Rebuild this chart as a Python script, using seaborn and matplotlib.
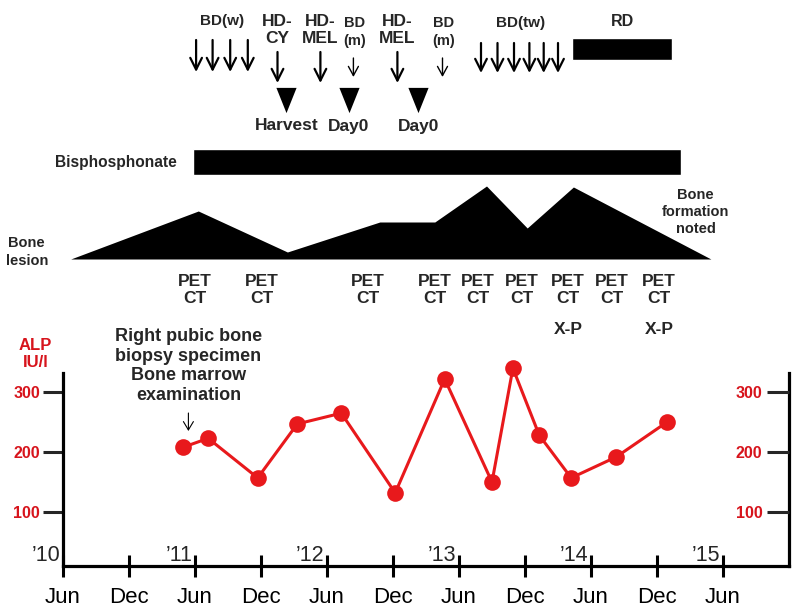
import numpy as np
import matplotlib
matplotlib.use("Agg")
import matplotlib.pyplot as plt
import seaborn as sns
import pandas as pd

# Time is in months since Jun 2010
TICK_MONTHS = list(range(0, 61, 6))
TICK_LABELS = ["Jun", "Dec"] * 5 + ["Jun"]
YEAR_MONTHS = [0, 12, 24, 36, 48, 60]
YEAR_LABELS = ["\u201910", "\u201911", "\u201912", "\u201913", "\u201914", "\u201915"]

# ALP (IU/l)
alp_months = [10.9, 13.2, 17.7, 21.3, 25.3, 30.2, 34.7, 39.0, 40.9, 43.3, 46.2, 50.3, 54.9]
alp_values = [208, 223, 157, 247, 265, 132, 322, 150, 340, 228, 157, 192, 250]
ALP_TICKS = [100, 200, 300]

# treatment events
bd_w_months = [12.1, 13.6, 15.2, 16.8]
bd_tw_months = [38.0, 39.5, 41.0, 42.4, 43.7, 45.0]
hd_months = [19.5, 23.4, 30.4]
hd_labels = ["HD-\nCY", "HD-\nMEL", "HD-\nMEL"]
bd_m_months = [26.4, 34.5]
stem_months = [20.3, 26.0, 32.3]
stem_labels = ["Harvest", "Day0", "Day0"]
rd_start, rd_end = 46.3, 55.4
bis_start, bis_end = 11.8, 56.2

# imaging
pet_months = [12.0, 18.1, 27.7, 33.8, 37.7, 41.7, 45.9, 49.9, 54.2]
xp_months = [45.9, 54.2]

# bone lesion size (relative)
lesion_months = [0.7, 12.3, 20.4, 28.8, 33.8, 38.5, 42.2, 46.4, 58.9]
lesion_level = [0, 48, 7, 37, 37, 73, 31, 72, 0]
biopsy_month = 11.4

RED = "#e8191c"
TXT_RED = "#d7141c"

sns.set_theme(style="white")
plt.rcParams["font.family"] = ["Liberation Sans", "DejaVu Sans"]

W, H = 800, 609
fig = plt.figure(figsize=(W / 100, H / 100), dpi=100)
L, R, B, T = 63, 789, 566, 373  # plot box in pixels

# ---------- ALP panel ----------
ax = fig.add_axes([L / W, 1 - B / H, (R - L) / W, (B - T) / H])
sns.lineplot(x=alp_months, y=alp_values, ax=ax, color=RED, lw=2.2,
             marker="o", markersize=12, markeredgewidth=0, clip_on=False)
ax.set_xlim(0, 66)
ax.set_ylim(10, 332)
for s in ["left", "right", "bottom"]:
    ax.spines[s].set_linewidth(2.3)
    ax.spines[s].set_color("black")
ax.spines["top"].set_visible(False)

ax.set_xticks(TICK_MONTHS)
ax.set_xticklabels(TICK_LABELS, fontsize=16)
ax.tick_params(axis="x", direction="inout", length=16, width=2.2, pad=7,
               bottom=True, colors="black")
ax.set_yticks(ALP_TICKS)
ax.set_yticklabels([str(v) for v in ALP_TICKS], color=TXT_RED,
                   fontweight="bold", fontsize=11.5)
ax.tick_params(axis="y", direction="out", length=14.5, width=2.2, pad=2, left=True)
ax.set_xlabel("")
ax.set_ylabel("")

ax2 = ax.twinx()
ax2.set_ylim(ax.get_ylim())
ax2.set_yticks(ALP_TICKS)
ax2.set_yticklabels([str(v) for v in ALP_TICKS], color=TXT_RED,
                    fontweight="bold", fontsize=11.5)
ax2.tick_params(axis="y", direction="in", length=16, width=2.2, pad=-19, right=True)
for t in ax2.get_yticklabels():
    t.set_horizontalalignment("right")
for s in ax2.spines.values():
    s.set_visible(False)

for m, lbl in zip(YEAR_MONTHS, YEAR_LABELS):
    ax.annotate(lbl, xy=(m, 10), xytext=(-2, 0), textcoords="offset points",
                ha="right", va="bottom", fontsize=15.5, annotation_clip=False)

# ---------- timeline panel (y in pixel rows) ----------
at = fig.add_axes([L / W, 1 - T / H, (R - L) / W, T / H])
at.set_xlim(0, 66)
at.set_ylim(T, 0)
at.axis("off")


def arrow(x, y0, y1, lw=1.6, hw=0.35, hl=0.7):
    at.annotate("", xy=(x, y1), xytext=(x, y0), annotation_clip=False,
                arrowprops=dict(arrowstyle=f"->,head_length={hl},head_width={hw}",
                                lw=lw, color="black", shrinkA=0, shrinkB=0))


for m in bd_w_months:
    arrow(m, 40, 72)
at.text(np.mean(bd_w_months), 21, "BD(w)", ha="center", va="center",
        fontsize=11, fontweight="bold")

for m in bd_tw_months:
    arrow(m, 43, 73)
at.text(np.mean(bd_tw_months), 23, "BD(tw)", ha="center", va="center",
        fontsize=11, fontweight="bold")

for m, lbl in zip(hd_months, hd_labels):
    arrow(m, 52, 83)
    at.text(m, 30, lbl, ha="center", va="center", fontsize=12.5,
            fontweight="bold", linespacing=1.1)

for m in bd_m_months:
    arrow(m, 58, 77, lw=1.0, hw=0.3, hl=0.55)
    at.text(m + 0.1, 32, "BD\n(m)", ha="center", va="center", fontsize=10.5,
            fontweight="bold", linespacing=1.3)

tri = [(-0.8, 1), (0.8, 1), (0, -1)]
at.scatter(stem_months, [100] * len(stem_months), marker=tri, s=330,
           color="black", linewidths=0, clip_on=False)
for m, lbl in zip(stem_months, stem_labels):
    at.text(m, 126, lbl, ha="center", va="center", fontsize=12.5, fontweight="bold")

at.barh(49, rd_end - rd_start, left=rd_start, height=22, color="black")
at.text((rd_start + rd_end) / 2, 22, "RD", ha="center", va="center",
        fontsize=11.5, fontweight="bold")

at.barh(162, bis_end - bis_start, left=bis_start, height=26, color="black")
at.text(bis_start - 1.5, 162, "Bisphosphonate", ha="right", va="center",
        fontsize=11.2, fontweight="bold")

base = 259
at.fill_between(lesion_months, base, base - np.array(lesion_level),
                color="black", lw=0)
at.text(-3.3, 252, "Bone\nlesion", ha="center", va="center", fontsize=10.5,
        fontweight="bold", linespacing=1.4)
at.text(57.5, 212, "Bone\nformation\nnoted", ha="center", va="center",
        fontsize=10.5, fontweight="bold", linespacing=1.3)

for m in pet_months:
    at.text(m, 290, "PET\nCT", ha="center", va="center", fontsize=12.5,
            fontweight="bold", linespacing=1.2)
for m in xp_months:
    at.text(m, 330, "X-P", ha="center", va="center", fontsize=12.5,
            fontweight="bold")

at.text(-2.5, 354, "ALP\nIU/l", ha="center", va="center", fontsize=12,
        fontweight="bold", color=TXT_RED, linespacing=1.1)
at.text(biopsy_month, 366, "Right pubic bone\nbiopsy specimen\nBone marrow\nexamination",
        ha="center", va="center", fontsize=13, fontweight="bold", linespacing=1.2)
arrow(biopsy_month, 413, 431, lw=0.8, hw=0.3, hl=0.5)

fig.savefig("out.png", dpi=100)
